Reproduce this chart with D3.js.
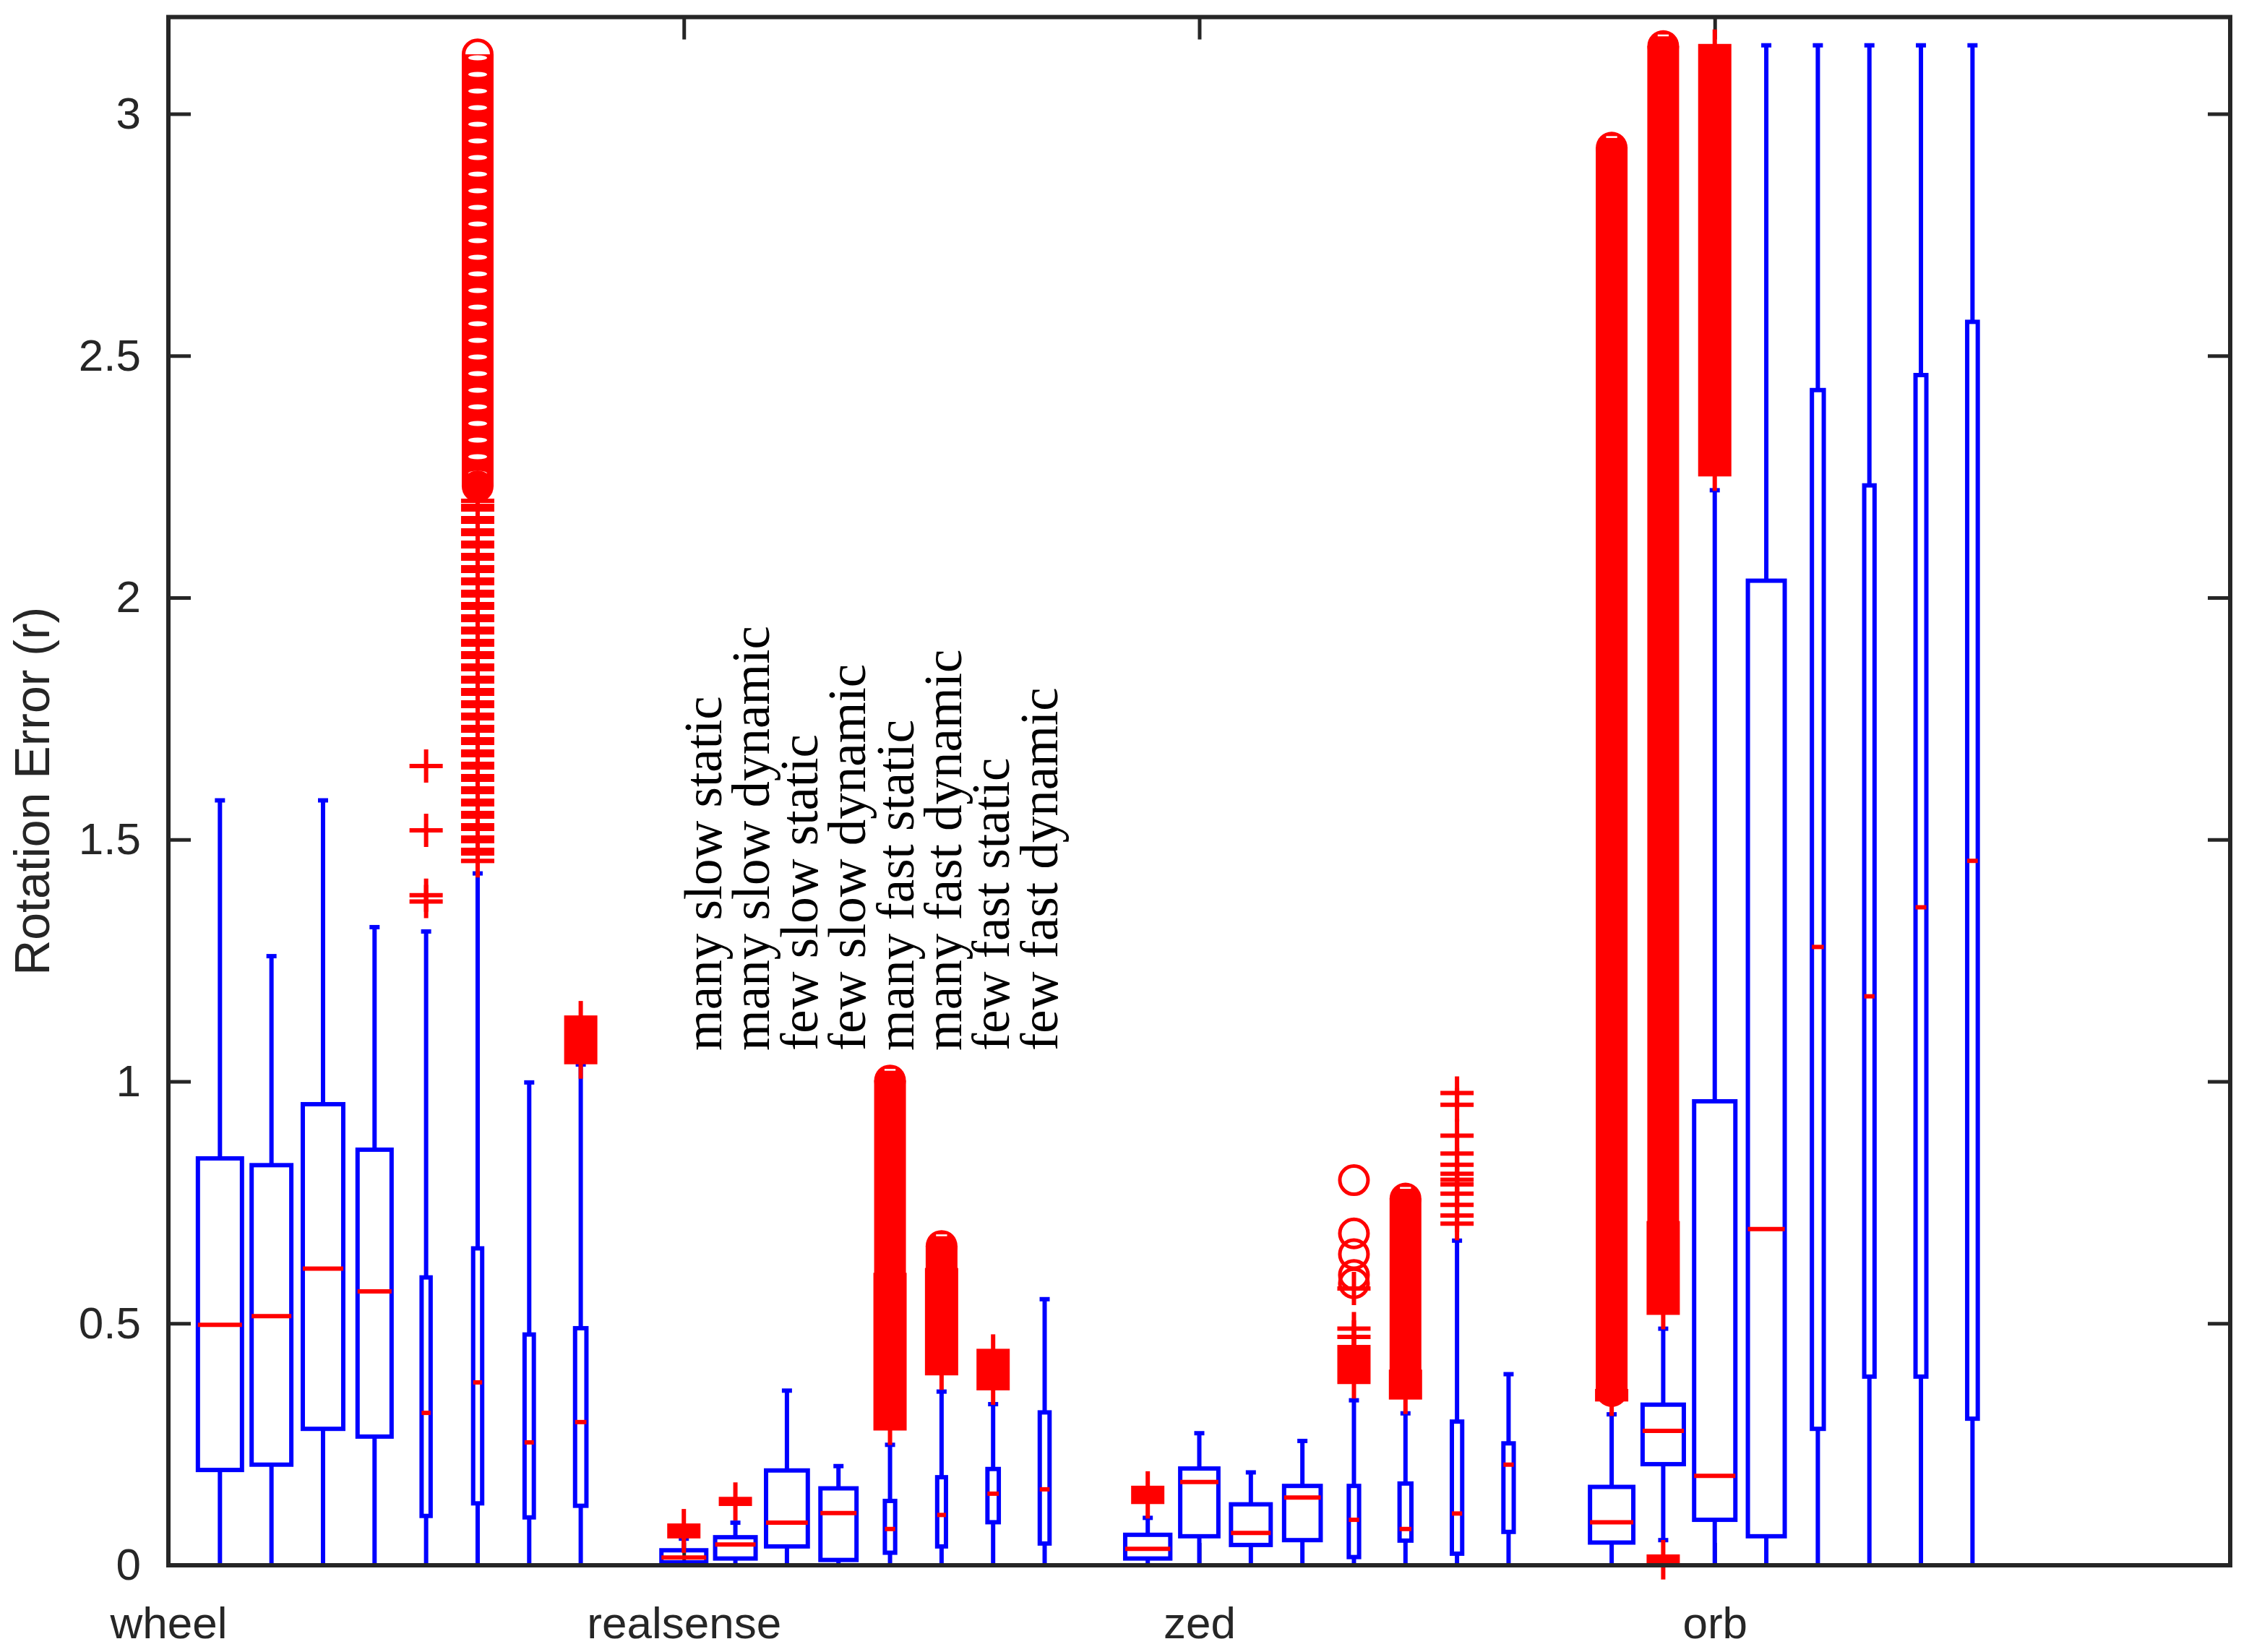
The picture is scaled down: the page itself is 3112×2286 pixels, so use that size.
<!DOCTYPE html>
<html>
<head>
<meta charset="utf-8">
<script src="https://cdn.jsdelivr.net/npm/d3@7"></script>
<style>
html,body{margin:0;padding:0;background:#fff;}
svg{display:block;}
</style>
</head>
<body>
<svg id="chart" width="3112" height="2286"></svg>
<script>
// ---------------- DATA ----------------
const groupNames = ["wheel", "realsense", "zed", "orb"];
const groupTicks = [0, 10, 20, 30];
const yTicks = [0, 0.5, 1, 1.5, 2, 2.5, 3];
const conditionLabels = ["many slow static", "many slow dynamic", "few slow static", "few slow dynamic",
  "many fast static", "many fast dynamic", "few fast static", "few fast dynamic"];

const positions = [1,2,3,4,5,6,7,8, 10,11,12,13,14,15,16,17, 19,20,21,22,23,24,25,26, 28,29,30,31,32,33,34,35];
const whiskerLow = [0,0,0,0,0,0,0,0, 0,0,0,0,0,0,0,0, 0,0,0,0,0,0,0,0, 0,0.052,0,0,0,0,0,0];
const q1 = [0.197,0.208,0.282,0.266,0.102,0.128,0.099,0.123,
  0.006,0.014,0.039,0.011,0.026,0.039,0.089,0.045,
  0.014,0.060,0.042,0.052,0.017,0.051,0.024,0.069,
  0.047,0.209,0.094,0.060,0.282,0.390,0.390,0.303];
const medians = [0.497,0.515,0.613,0.566,0.315,0.378,0.254,0.296,
  0.016,0.043,0.088,0.108,0.075,0.104,0.148,0.157,
  0.034,0.172,0.067,0.140,0.094,0.075,0.107,0.208,
  0.089,0.278,0.185,0.695,1.278,1.176,1.360,1.456];
const q3 = [0.841,0.827,0.953,0.859,0.595,0.655,0.477,0.490,
  0.031,0.058,0.196,0.159,0.133,0.182,0.199,0.316,
  0.063,0.200,0.126,0.164,0.164,0.169,0.297,0.252,
  0.162,0.332,0.959,2.035,2.429,2.232,2.460,2.570];
const whiskerHigh = [1.581,1.259,1.581,1.319,1.310,1.430,0.998,1.035,
  0.055,0.088,0.361,0.205,0.249,0.359,0.333,0.550,
  0.098,0.273,0.192,0.257,0.341,0.314,0.671,0.395,
  0.312,0.489,2.222,3.1416,3.1416,3.1416,3.1416,3.1416];
// box widths in x-axis units
const boxWidths = [0.855,0.77,0.785,0.66,0.175,0.175,0.18,0.22,
  0.87,0.785,0.81,0.70,0.20,0.17,0.22,0.19,
  0.875,0.74,0.77,0.71,0.20,0.23,0.20,0.20,
  0.84,0.80,0.80,0.715,0.23,0.20,0.21,0.205];

// individual outliers: [position, value]
const plusOutliers = [
  [5,1.652],[5,1.519],[5,1.385],[5,1.372],
  [23,0.472],[23,0.489],[23,0.572],
  [25,0.706],[25,0.723],[25,0.745],[25,0.768],[25,0.787],[25,0.797],[25,0.809],[25,0.828],[25,0.851],[25,0.888],[25,0.952],[25,0.976]
];
const circleOutliers = [
  [23,0.583],[23,0.600],[23,0.643],[23,0.686],[23,0.796]
];
// dense outlier runs (markers overlap into a solid column): [position, low value, high value]
const plusRuns = [
  [6,1.456,2.20],[8,1.040,1.132],[10,0.060,0.082],[11,0.127,0.137],
  [14,0.283,0.60],[15,0.397,0.61],[16,0.366,0.443],
  [19,0.131,0.160],[23,0.379,0.451],[24,0.347,0.40],
  [28,0.343,0.36],[29,0.005,0.018],[29,0.522,0.707],[30,2.255,3.14]
];
const circleRuns = [
  [6,2.23,3.123],[14,0.55,1.002],[15,0.60,0.66],[24,0.38,0.758],
  [28,0.36,2.93],[29,0.60,3.14]
];

// ---------------- DRAW ----------------
(function () {
const svg = d3.select("#chart");
const W = 3112, H = 2286;
const pL = 233, pR = 3086, pT = 23.6, pB = 2166;
const x = d3.scaleLinear().domain([0, 40]).range([pL, pR]);
const y = d3.scaleLinear().domain([0, 3.2]).range([pB, pT]);

const BLUE = "#0000ff", RED = "#ff0000", AX = "#262626";
const tickFont = "'Liberation Sans', Arial, Helvetica, sans-serif";

const defs = svg.append("defs");
const pStripe = defs.append("pattern").attr("id", "plusStripe")
  .attr("patternUnits", "userSpaceOnUse").attr("width", 60).attr("height", 17);
pStripe.append("rect").attr("x", 0).attr("y", 0).attr("width", 60).attr("height", 11).attr("fill", RED);
const pRing = defs.append("pattern").attr("id", "ringPat")
  .attr("patternUnits", "userSpaceOnUse").attr("x", x(6) - 30).attr("width", 60).attr("height", 23);
pRing.append("rect").attr("width", 60).attr("height", 23).attr("fill", RED);
pRing.append("ellipse").attr("cx", 30).attr("cy", 11).attr("rx", 13).attr("ry", 3.5).attr("fill", "#fff");

const clip = defs.append("clipPath").attr("id", "plotClip");
clip.append("rect").attr("x", 0).attr("y", pT - 40).attr("width", W).attr("height", pB - pT + 120);

// axes (inward ticks)
const tickLen = 31;
const gY = svg.append("g").attr("transform", `translate(${pL},0)`)
  .call(d3.axisLeft(y).tickValues(yTicks).tickSizeInner(-tickLen).tickSizeOuter(0).tickPadding(38)
    .tickFormat(d => d3.format("")(d)));
const gYR = svg.append("g").attr("transform", `translate(${pR},0)`)
  .call(d3.axisRight(y).tickValues(yTicks).tickSizeInner(-tickLen).tickSizeOuter(0).tickFormat(""));
const gXT = svg.append("g").attr("transform", `translate(0,${pT})`)
  .call(d3.axisTop(x).tickValues(groupTicks).tickSizeInner(-tickLen).tickSizeOuter(0).tickFormat(""));
const gXB = svg.append("g").attr("transform", `translate(0,${pB})`)
  .call(d3.axisBottom(x).tickValues(groupTicks).tickSizeInner(-tickLen).tickSizeOuter(0)
    .tickFormat((d, i) => groupNames[i]));
[gY, gYR, gXT, gXB].forEach(g => {
  g.select(".domain").remove();
  g.selectAll(".tick line").attr("stroke", AX).attr("stroke-width", 5);
  g.selectAll("text").attr("fill", AX).attr("font-family", tickFont).attr("font-size", 62);
});
gXB.selectAll("text").attr("dy", null).attr("y", 101);

// y label
svg.append("text")
  .attr("transform", `translate(68,${(pT + pB) / 2}) rotate(-90)`)
  .attr("text-anchor", "middle")
  .attr("font-family", tickFont).attr("font-size", 68).attr("fill", AX)
  .text("Rotation Error (r)");

// boxes
const boxes = positions.map((p, i) => ({p, lo: whiskerLow[i], q1: q1[i], med: medians[i], q3: q3[i], hi: whiskerHigh[i], w: boxWidths[i]}));
const gB = svg.append("g").attr("clip-path", "url(#plotClip)");
const LW = 6;
boxes.forEach(b => {
  const cx = x(b.p);
  const g = gB.append("g");
  g.append("line").attr("x1", cx).attr("x2", cx).attr("y1", y(b.q3)).attr("y2", y(b.hi))
    .attr("stroke", BLUE).attr("stroke-width", LW);
  g.append("line").attr("x1", cx).attr("x2", cx).attr("y1", y(b.q1)).attr("y2", y(b.lo))
    .attr("stroke", BLUE).attr("stroke-width", LW);
  [b.hi, b.lo].forEach(v => g.append("line").attr("x1", cx - 7).attr("x2", cx + 7)
    .attr("y1", y(v)).attr("y2", y(v)).attr("stroke", BLUE).attr("stroke-width", LW));
  const x0 = x(b.p - b.w / 2), x1 = x(b.p + b.w / 2);
  g.append("rect").attr("x", x0).attr("y", y(b.q3)).attr("width", x1 - x0).attr("height", y(b.q1) - y(b.q3))
    .attr("fill", "none").attr("stroke", BLUE).attr("stroke-width", LW);
  g.append("line").attr("x1", x0).attr("x2", x1).attr("y1", y(b.med)).attr("y2", y(b.med))
    .attr("stroke", RED).attr("stroke-width", LW);
});

// outliers
const gO = svg.append("g");
const PH = 23;
const CR = 19.5;
const CSW = 5;
plusRuns.forEach(([p, lo, hi]) => {
  const cx = x(p);
  const loose = (p === 6);
  gO.append("rect").attr("x", cx - PH).attr("width", 2 * PH)
    .attr("y", y(hi) - 3).attr("height", y(lo) - y(hi) + 6)
    .attr("fill", loose ? "url(#plusStripe)" : RED);
  if (loose) {
    [lo, hi].forEach(v => gO.append("line").attr("x1", cx - PH).attr("x2", cx + PH)
      .attr("y1", y(v)).attr("y2", y(v)).attr("stroke", RED).attr("stroke-width", 6));
  }
  gO.append("line").attr("x1", cx).attr("x2", cx).attr("y1", y(hi) - PH).attr("y2", y(lo) + PH)
    .attr("stroke", RED).attr("stroke-width", 6);
});
circleRuns.forEach(([p, lo, hi]) => {
  const cx = x(p);
  const loose = (p === 6);
  const outer = CR + CSW / 2, inner = CR - CSW / 2;
  gO.append("rect").attr("x", cx - outer).attr("width", 2 * outer)
    .attr("y", y(hi)).attr("height", y(lo) - y(hi))
    .attr("fill", loose ? "url(#ringPat)" : RED);
  gO.append("circle").attr("cx", cx).attr("cy", y(lo)).attr("r", outer).attr("fill", RED);
  if (loose) {
    gO.append("circle").attr("cx", cx).attr("cy", y(hi)).attr("r", CR)
      .attr("fill", "none").attr("stroke", RED).attr("stroke-width", CSW);
  } else {
    gO.append("circle").attr("cx", cx).attr("cy", y(hi)).attr("r", outer).attr("fill", RED);
    // tiny gap left by the topmost ring
    gO.append("rect").attr("x", cx - inner * 0.45).attr("width", inner * 0.9)
      .attr("y", y(hi) - inner + 1).attr("height", 2.5).attr("fill", "#fff");
  }
});
plusOutliers.forEach(([p, v]) => {
  const cx = x(p), cy = y(v);
  gO.append("path").attr("d", `M${cx - PH},${cy}H${cx + PH}M${cx},${cy - PH}V${cy + PH}`)
    .attr("stroke", RED).attr("stroke-width", 6).attr("fill", "none");
});
circleOutliers.forEach(([p, v]) => {
  gO.append("circle").attr("cx", x(p)).attr("cy", y(v)).attr("r", CR)
    .attr("fill", "none").attr("stroke", RED).attr("stroke-width", CSW);
});

// frame
svg.append("rect").attr("x", pL).attr("y", pT).attr("width", pR - pL).attr("height", pB - pT)
  .attr("fill", "none").attr("stroke", AX).attr("stroke-width", 6);

// condition annotation
const ann = svg.append("g").attr("font-family", "'Liberation Serif', 'Times New Roman', serif")
  .attr("font-size", 73).attr("fill", "#000");
conditionLabels.forEach((t, i) => {
  ann.append("text")
    .attr("transform", `translate(${998 + i * 66.4},1454) rotate(-90)`)
    .attr("text-anchor", "start")
    .text(t);
});
})();
</script>
</body>
</html>
